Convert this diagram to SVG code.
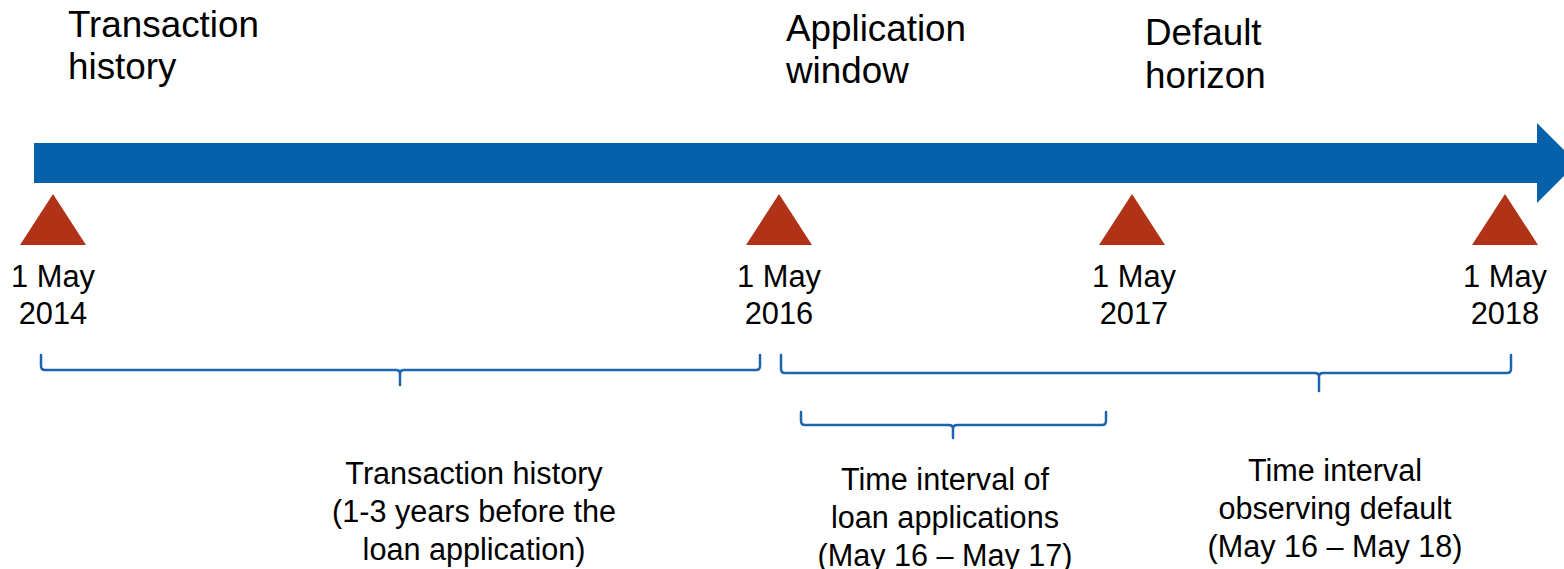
<svg xmlns="http://www.w3.org/2000/svg" width="1564" height="569" viewBox="0 0 1564 569">
<style>
text{font-family:"Liberation Sans",Arial,sans-serif;fill:#000}
.title{font-size:36.8px}
.date{font-size:30.8px;text-anchor:middle}
.lbl{font-size:30.6px;text-anchor:middle}
.tri{fill:#B03318}
.brace{fill:none;stroke:#1E63AE;stroke-width:2.5;stroke-linecap:round;stroke-linejoin:round}
</style>
<rect width="1564" height="569" fill="#fff"/>
<g id="timeline">
<polygon points="34,143 1537,143 1537,123 1577,163 1537,203 1537,183 34,183" fill="#0561AA"/>
</g>
<g id="titles">
<g id="title-transaction"><text class="title" x="68" y="37">Transaction</text><text class="title" x="68" y="79">history</text></g>
<g id="title-application"><text class="title" x="786" y="41">Application</text><text class="title" x="786" y="83">window</text></g>
<g id="title-default"><text class="title" x="1145" y="45">Default</text><text class="title" x="1145" y="88">horizon</text></g>
</g>
<g id="marker-2014"><polygon class="tri" points="53,194 86,245 20,245"/><text class="date" x="53" y="287">1 May</text><text class="date" x="53" y="324">2014</text></g>
<g id="marker-2016"><polygon class="tri" points="779,194 812,245 746,245"/><text class="date" x="779" y="287">1 May</text><text class="date" x="779" y="324">2016</text></g>
<g id="marker-2017"><polygon class="tri" points="1132,194 1165,245 1099,245"/><text class="date" x="1134" y="287">1 May</text><text class="date" x="1134" y="324">2017</text></g>
<g id="marker-2018"><polygon class="tri" points="1505,194 1538,245 1472,245"/><text class="date" x="1505" y="287">1 May</text><text class="date" x="1505" y="324">2018</text></g>
<g id="connectors">
<path class="brace" d="M41,355 L41,366 Q41,370 45,370 L396,370 Q400,370 400,374 L400,385 M400,374 Q400,370 404,370 L756,370 Q760,370 760,366 L760,355"/>
<path class="brace" d="M781,355 L781,369 Q781,373 785,373 L1315,373 Q1319,373 1319,377 L1319,391 M1319,377 Q1319,373 1323,373 L1507,373 Q1511,373 1511,369 L1511,355"/>
<path class="brace" d="M801,412 L801,421 Q801,425 805,425 L949,425 Q953,425 953,429 L953,438 M953,429 Q953,425 957,425 L1102,425 Q1106,425 1106,421 L1106,412"/>
</g>
<g id="label-history"><text class="lbl" x="474" y="484">Transaction history</text><text class="lbl" x="474" y="522">(1-3 years before the</text><text class="lbl" x="474" y="560">loan application)</text></g>
<g id="label-applications"><text class="lbl" x="945" y="490">Time interval of</text><text class="lbl" x="945" y="528">loan applications</text><text class="lbl" x="945" y="566">(May 16 – May 17)</text></g>
<g id="label-default"><text class="lbl" x="1335" y="481">Time interval</text><text class="lbl" x="1335" y="519">observing default</text><text class="lbl" x="1335" y="557">(May 16 – May 18)</text></g>
</svg>
